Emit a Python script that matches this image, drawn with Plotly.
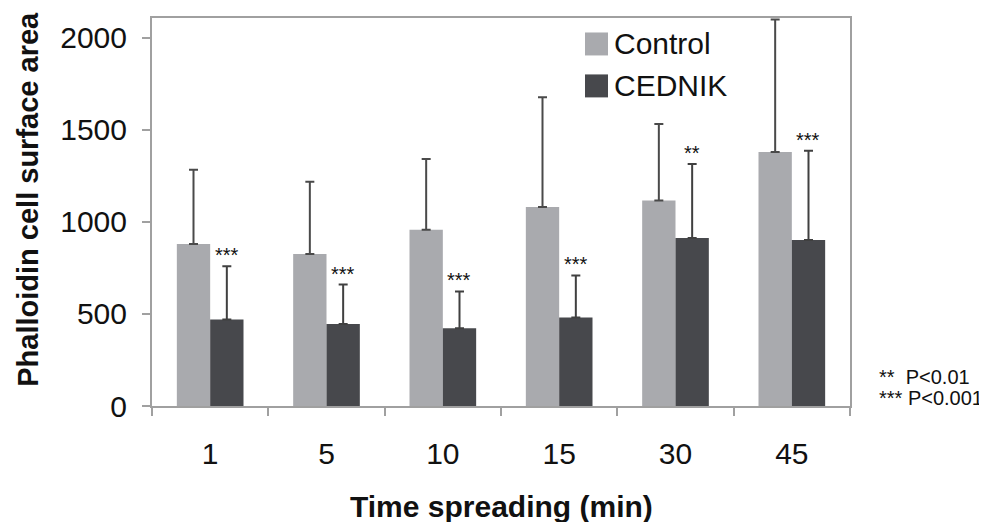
import plotly.graph_objects as go

categories = ["1", "5", "10", "15", "30", "45"]
control_mean = [879, 825, 957, 1080, 1115, 1378]
control_err = [403, 392, 384, 596, 416, 720]
cednik_mean = [469, 445, 422, 481, 912, 901]
cednik_err = [289, 214, 200, 228, 402, 485]
significance = ["***", "***", "***", "***", "**", "***"]
p_notes = ["**  P<0.01", "*** P<0.001"]
x_title = "Time spreading (min)"
y_title = "Phalloidin cell surface area"

CONTROL_COLOR = "#a9aaae"
CEDNIK_COLOR = "#47484c"
FONT = "Liberation Sans, Arial, sans-serif"

# page body has an 8px margin; figure is sized so the plot lands where the reference has it
PLOT_L, PLOT_T, PLOT_W, PLOT_H = 152, 18, 698, 388.5
OFF = 8


def py(ypix):
    return (PLOT_T + PLOT_H - ypix) / PLOT_H


def px(xpix):
    return (xpix - PLOT_L) / PLOT_W


fig = go.Figure()
fig.add_trace(go.Bar(
    name="Control", x=categories, y=control_mean,
    marker=dict(color=CONTROL_COLOR, line=dict(width=0)),
    error_y=dict(type="data", array=control_err, symmetric=False,
                 arrayminus=[0] * len(categories),
                 color="#4a4a4a", thickness=2, width=4.5),
    showlegend=False,
))
fig.add_trace(go.Bar(
    name="CEDNIK", x=categories, y=cednik_mean,
    marker=dict(color=CEDNIK_COLOR, line=dict(width=0)),
    error_y=dict(type="data", array=cednik_err, symmetric=False,
                 arrayminus=[0] * len(categories),
                 color="#404040", thickness=2, width=4.5),
    showlegend=False,
))

# significance stars above CEDNIK error bars (category index positions)
for i, (m, e, s) in enumerate(zip(cednik_mean, cednik_err, significance)):
    fig.add_annotation(x=i, y=m + e, text=s, showarrow=False,
                       xanchor="center", yanchor="bottom", xshift=16.6, yshift=-2,
                       font=dict(family=FONT, size=20, color="#111111"))

# manual legend
legend_items = [("Control", CONTROL_COLOR), ("CEDNIK", CEDNIK_COLOR)]
for i, (lab, col) in enumerate(legend_items):
    yc = 44 + i * 42
    fig.add_shape(type="rect", xref="paper", yref="paper",
                  x0=px(585), x1=px(608), y0=py(yc + 11.5), y1=py(yc - 11.5),
                  fillcolor=col, line=dict(width=0))
    fig.add_annotation(xref="paper", yref="paper", x=px(612), y=py(yc),
                       text=lab, showarrow=False, xanchor="left", yanchor="middle",
                       font=dict(family=FONT, size=30, color="#111111"))

# p-value notes
for j, note in enumerate(p_notes):
    fig.add_annotation(xref="paper", yref="paper", x=px(877), y=py(377 + 21 * j),
                       text=note, showarrow=False, align="left",
                       xanchor="left", yanchor="middle",
                       font=dict(family=FONT, size=20, color="#111111"))

# axis titles
fig.add_annotation(xref="paper", yref="paper", x=px(501), y=py(507),
                   text="<b>" + x_title + "</b>", showarrow=False,
                   xanchor="center", yanchor="middle",
                   font=dict(family=FONT, size=30, color="#111111"))
fig.add_annotation(xref="paper", yref="paper", x=px(28), y=py(200),
                   text="<b>" + y_title + "</b>", showarrow=False, textangle=-90,
                   xanchor="center", yanchor="middle",
                   font=dict(family=FONT, size=29, color="#111111"))

W, H = 987 - OFF, 522 - OFF
fig.update_layout(
    width=W, height=H,
    margin=dict(l=PLOT_L - OFF, r=W - (PLOT_L - OFF) - PLOT_W, t=PLOT_T - OFF,
                b=H - (PLOT_T - OFF) - PLOT_H),
    paper_bgcolor="white", plot_bgcolor="white",
    barmode="group", bargap=0.427, bargroupgap=0,
    font=dict(family=FONT, color="#111111"),
)
fig.update_xaxes(
    type="category", range=[-0.5, len(categories) - 0.5], autorange=False,
    automargin=False,
    tickson="boundaries", ticks="outside", ticklen=8,
    tickcolor="#a0a0a0", tickwidth=1.5, tickangle=0,
    showline=True, linecolor="#a0a0a0", linewidth=2, mirror=True,
    showgrid=False, tickfont=dict(family=FONT, size=30, color="#111111"),
    ticklabelstandoff=20,
)
fig.update_yaxes(
    range=[0, 2106], autorange=False, tickvals=[0, 500, 1000, 1500, 2000],
    automargin=False,
    ticks="outside", ticklen=8, tickcolor="#a0a0a0", tickwidth=1.5,
    showline=True, linecolor="#a0a0a0", linewidth=2, mirror=True,
    showgrid=False, zeroline=False,
    tickfont=dict(family=FONT, size=30, color="#111111"),
    ticklabelstandoff=9,
)

fig.write_html("out.html")
